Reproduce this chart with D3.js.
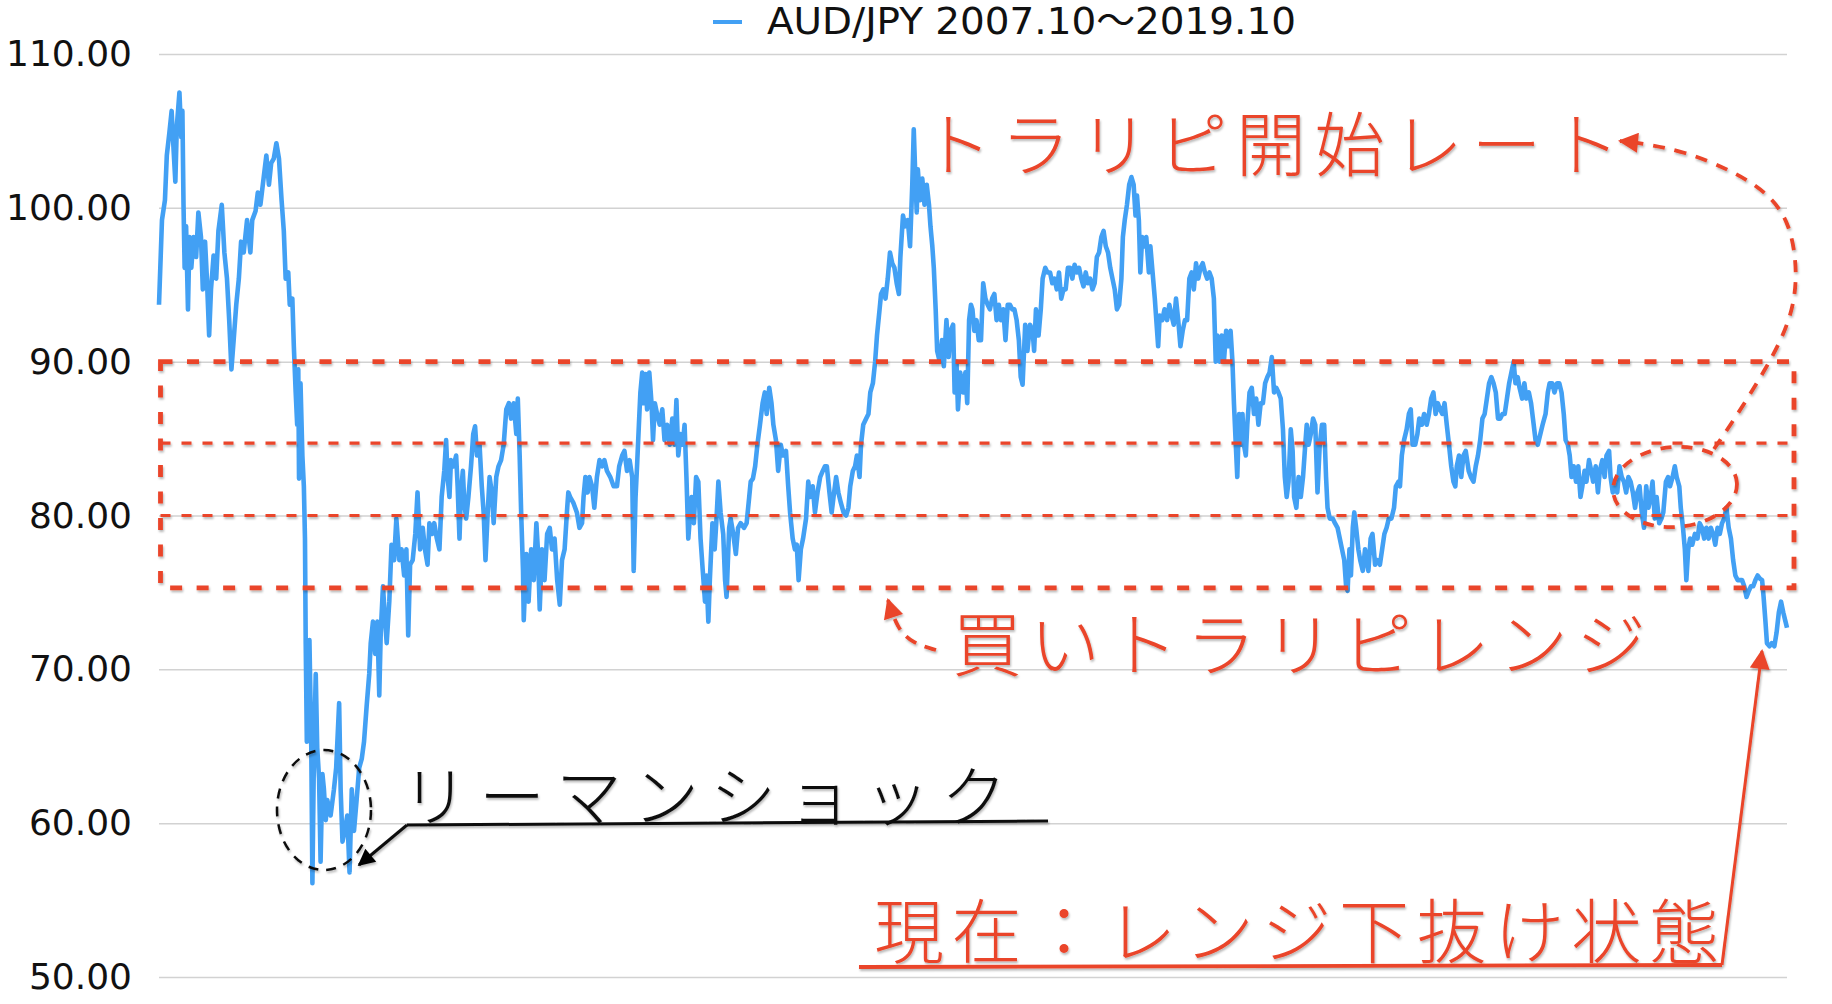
<!DOCTYPE html>
<html><head><meta charset="utf-8">
<script src="https://cdn.jsdelivr.net/npm/d3@7"></script>
<style>
html,body{margin:0;padding:0;background:#fff;}
svg{display:block;}
</style></head>
<body><svg id="chart" width="1832" height="1004"></svg>
<script>
// ---------------- DATA ----------------
const startDate = new Date(2007, 9, 1);   // 2007.10
const endDate   = new Date(2019, 9, 1);   // 2019.10
const yTicks = [50, 60, 70, 80, 90, 100, 110];
const seriesName = "AUD/JPY 2007.10〜2019.10";

// days since 2007-10-01
const dayOffsets = [
0,8,16,21,28,34,39,44,48,55,60,63,66,69,73,78,82,87,93,100,106,113,118,124,129,135,140,147,154,160,169,176,183,189,195,201,208,215,221,228,237,246,251,260,266,273,282,289,296,302,309,316,323,330,336,341,348,352,359,363,368,372,375,377,381,386,390,393,395,398,401,405,410,413,417,422,426,431,435,440,444,449,453,462,471,477,485,489,494,500,507,513,519,525,532,539,546,552,559,566,570,576,582,588,593,597,603,608,613,620,626,633,639,647,653,660,666,671,676,683,690,696,703,710,716,723,728,735,741,748,755,761,768,773,777,782,786,793,800,804,809,813,818,822,827,833,840,846,851,856,863,869,874,879,885,890,896,901,908,914,921,928,935,942,948,955,962,966,971,975,980,982,989,995,1002,1009,1016,1020,1025,1031,1038,1045,1052,1058,1065,1072,1079,1085,1092,1099,
1102,1107,1116,1125,1132,1139,1143,1148,1154,1159,1166,1172,1179,1186,1193,1199,1206,1215,1224,1233,1239,1247,1253,1260,1267,1274,1278,1283,1287,1292,1296,1301,1305,1310,1314,1320,1326,1330,1335,1341,1348,1355,1361,1368,1375,1382,1388,1393,1398,1404,1410,1415,1420,1425,1429,1434,1440,1446,1452,1458,1464,1470,1474,1479,1483,1490,1496,1501,1506,1512,1519,1524,1528,1535,1539,1546,1553,1559,1566,1575,1582,1589,1593,1599,1605,1611,1618,1625,1631,1636,1643,1649,1654,1661,1667,1674,1680,1688,1694,1699,1706,1712,1717,1722,1728,1734,1742,1748,1753,1760,1766,1773,1780,1787,1793,1798,1805,1811,1816,1823,1829,1836,1843,1850,1856,1861,1868,1874,1879,1886,1890,1896,1904,1910,1915,1922,1928,1933,1940,1944,1950,1956,1962,1968,1974,1980,1986,1992,1996,2003,2009,2016,2022,2028,2032,2036,2040,2043,2049,2055,2061,2067,2073,2077,2082,2086,2091,2095,2102,2108,2113,2120,2126,2131,2138,2142,2147,2151,2157,2165,2171,2176,2181,
2186,2190,2195,2201,2207,2213,2219,2225,2231,2237,2243,2249,2255,2261,2267,2273,2279,2285,2291,2297,2303,2309,2315,2320,2325,2332,2338,2345,2352,2356,2361,2368,2374,2379,2386,2392,2399,2405,2411,2417,2423,2429,2435,2441,2447,2453,2459,2465,2471,2477,2483,2489,2495,2501,2507,2513,2519,2525,2531,2537,2543,2549,2555,2561,2567,2573,2579,2585,2591,2595,2600,2606,2612,2618,2624,2629,2633,2638,2642,2647,2653,2658,2665,2669,2675,2681,2685,2690,2694,2701,2707,2714,2720,2726,2732,2738,2744,2750,2756,2762,2768,2774,2780,2786,2792,2798,2804,2810,2816,2822,2828,2834,2840,2845,2849,2855,2861,2867,2873,2879,2885,2890,2894,2899,2903,2908,2912,2917,2921,2926,2930,2936,2942,2948,2954,2960,2966,2972,2978,2984,2990,2996,3002,3008,3014,3020,3026,3031,3036,3041,3047,3052,3056,3062,3068,3074,3080,3086,3090,3095,3101,3107,3113,3119,3125,3131,3137,3142,3146,3152,3160,3166,3173,3179,3185,3191,3196,3200,3205,3209,3214,3218,3223,3229,3234,3241,3247,
3256,3262,3267,3274,3280,3287,3293,3299,3305,3311,3318,3325,3330,3337,3341,3346,3352,3359,3365,3370,3375,3382,3388,3393,3400,3406,3413,3419,3425,3431,3437,3443,3449,3455,3461,3467,3473,3479,3485,3490,3494,3500,3506,3512,3518,3526,3532,3539,3545,3551,3557,3563,3569,3575,3581,3587,3593,3599,3605,3611,3617,3623,3629,3635,3641,3647,3652,3658,3663,3670,3676,3681,3688,3694,3699,3706,3712,3719,3725,3733,3739,3744,3751,3757,3764,3770,3776,3782,3787,3793,3798,3803,3809,3815,3821,3827,3832,3838,3843,3850,3856,3861,3868,3874,3879,3886,3892,3897,3904,3908,3914,3920,3926,3932,3938,3944,3950,3956,3962,3968,3974,3980,3986,3992,3998,4004,4010,4016,4021,4027,4032,4039,4045,4050,4057,4063,4068,4075,4081,4086,4093,4097,4103,4108,4112,4117,4122,4128,4135,4142,4148,4154,4160,4166,4172,4178,4184,4190,4196,4202,4208,4214,4220,4226,4232,4238,4244,4250,4256,4262,4268,4274,4280,4286,4292,4298,4304,4310,4316,4320,4325,4329,4336,4342,4349,4355,4361,4367,4373,4379,4383
];

// AUD/JPY rate at each of those days
const audjpy = [
93.7,99.2,100.5,103.4,104.9,106.3,103.9,101.7,105.3,107.5,104.6,106.3,100.2,96.1,98.8,93.4,98.1,96.1,98.1,96.8,99.7,98.1,94.7,97.8,95.4,91.7,94.7,96.9,95.4,98.5,100.2,97.1,95.4,92.7,89.5,91.4,93.7,95.4,97.8,97.1,99.2,97.1,99.2,99.8,101.0,100.2,102.0,103.4,101.5,102.9,103.2,104.2,103.2,100.5,98.5,95.4,95.8,93.7,94.1,91.0,88.0,85.9,89.5,82.4,88.6,83.9,81.9,78.5,71.7,65.3,67.6,71.9,64.9,56.1,64.2,69.7,64.9,62.9,57.5,63.2,62.2,60.2,61.5,60.5,62.2,63.6,67.8,62.2,58.8,59.5,60.5,56.8,62.2,59.5,61.5,63.6,64.2,65.3,67.6,69.7,71.7,73.1,71.0,73.1,68.3,72.4,75.4,73.4,71.7,74.4,78.1,77.1,79.8,77.1,77.8,76.1,77.8,72.2,76.8,77.1,78.8,81.5,77.8,79.2,77.8,76.8,79.5,78.8,79.5,78.5,77.8,81.2,82.9,84.9,82.5,81.2,83.6,83.2,83.9,81.9,78.5,81.5,82.9,80.8,79.8,81.2,83.2,85.3,85.8,83.9,84.6,81.9,80.2,77.1,80.2,82.5,81.5,79.5,82.5,83.2,83.6,84.6,86.9,87.3,86.3,87.3,85.3,87.6,83.9,80.2,76.4,73.2,77.5,74.4,77.8,75.8,79.5,77.8,73.9,77.8,75.8,78.8,79.2,77.8,78.5,75.8,74.2,77.1,77.8,80.5,
81.5,81.2,80.8,80.2,79.2,79.5,81.2,82.5,81.5,82.5,81.9,80.5,82.5,83.6,83.2,83.6,82.9,82.5,81.9,81.9,83.2,83.9,84.2,82.9,83.6,82.5,76.4,81.2,83.2,85.9,88.0,89.3,87.3,89.2,86.9,89.3,87.3,84.9,87.3,86.6,85.9,86.9,84.9,85.9,84.6,86.3,84.6,87.5,83.9,85.3,84.6,85.9,82.5,78.5,79.8,81.2,79.5,82.5,82.2,78.5,76.4,74.4,76.1,73.1,75.8,79.5,77.8,79.8,82.2,80.2,78.8,75.8,74.7,79.2,79.8,78.8,77.5,79.2,79.5,79.2,79.5,81.2,82.2,82.4,83.2,84.6,85.9,87.3,88.0,86.6,88.3,87.3,85.9,84.9,82.9,84.6,83.9,84.2,81.9,80.2,78.5,77.8,78.1,75.8,77.8,78.5,79.8,82.2,81.2,81.9,80.2,81.5,82.5,82.9,83.2,83.2,81.5,80.2,81.2,82.5,81.5,80.8,80.2,80.0,80.5,81.9,82.9,83.2,83.9,82.5,84.6,85.9,86.3,86.6,88.0,88.6,90.0,91.7,93.4,94.4,94.7,94.1,95.4,97.1,96.4,96.1,95.1,94.4,96.8,99.5,98.8,99.2,97.5,101.5,105.1,102.2,99.7,102.5,100.5,101.9,100.2,101.5,100.2,98.8,97.5,96.1,93.4,90.7,90.0,91.4,89.7,92.7,90.3,92.0,92.4,88.0,90.0,86.9,89.3,88.0,89.3,87.3,92.7,
93.7,93.4,92.0,92.7,91.4,91.4,95.1,94.1,93.7,93.4,94.1,94.4,92.7,93.7,92.7,93.4,91.4,93.7,93.7,93.4,93.4,92.7,91.4,89.0,88.5,92.4,90.7,92.4,92.0,90.7,93.4,91.7,93.4,95.4,96.1,95.8,95.8,95.1,95.4,94.7,95.8,94.1,94.7,94.7,96.1,96.1,95.4,96.3,95.8,96.1,95.4,94.9,95.8,95.1,95.4,94.7,95.1,96.8,97.1,98.1,98.5,97.5,97.1,96.1,95.4,94.7,93.4,93.7,95.4,98.1,99.2,100.2,101.5,102.0,101.5,99.5,100.8,99.2,95.8,98.1,97.5,98.1,95.8,97.5,95.8,94.1,92.7,91.0,93.0,92.7,93.4,92.7,93.7,93.0,92.4,94.1,92.7,91.0,92.0,92.7,92.7,95.4,95.8,94.7,96.4,95.4,96.1,96.4,95.8,95.4,95.8,95.4,94.1,90.0,91.7,90.0,91.7,90.0,92.0,91.0,92.0,90.0,87.3,84.6,82.5,86.6,84.6,86.6,84.6,83.9,85.9,88.0,88.3,86.6,87.6,85.9,87.3,87.3,88.6,89.0,89.3,90.3,88.0,88.3,88.0,87.6,85.6,82.5,81.2,82.2,85.6,84.2,81.2,80.5,82.5,81.2,82.5,84.6,85.9,84.6,85.3,86.3,85.9,81.5,84.6,85.9,85.9,82.5,80.5,79.8,79.8,79.5,79.2,78.5,77.8,77.1,75.4,75.1,77.8,76.1,79.2,80.2,79.2,77.8,77.1,76.4,77.8,
76.4,78.5,78.8,76.8,77.1,76.8,77.8,78.8,79.2,79.8,79.8,80.5,81.9,82.2,81.9,83.9,84.9,85.6,86.6,86.9,84.6,84.6,85.3,86.3,85.9,86.6,85.9,86.6,87.6,88.0,86.6,87.3,86.9,86.6,87.3,85.9,84.6,83.2,82.2,81.9,83.2,83.9,82.5,83.9,84.2,82.9,82.5,82.2,83.2,83.9,84.9,86.3,86.6,87.6,88.6,89.0,88.6,88.0,86.3,86.3,86.6,86.6,87.6,88.6,89.3,90.0,88.6,89.0,88.3,87.6,88.6,87.6,88.0,87.3,86.3,84.9,84.6,85.3,85.9,86.6,88.0,88.6,88.6,88.0,88.6,88.6,88.0,86.6,84.9,84.6,83.9,82.5,83.2,82.2,83.2,81.2,81.9,82.9,82.2,83.6,82.9,82.2,83.2,81.5,82.9,83.6,82.5,83.9,84.2,82.5,81.5,82.2,81.5,83.2,82.5,82.2,81.5,82.5,82.2,81.5,80.5,81.5,81.9,80.2,79.2,81.9,80.5,81.2,82.2,79.8,81.2,79.5,79.8,80.2,82.2,82.5,81.9,82.5,83.2,82.5,81.9,80.5,79.2,77.8,75.8,77.8,78.5,78.1,78.8,78.5,79.5,79.2,78.5,79.2,78.5,79.2,78.8,78.1,79.2,78.8,79.5,79.8,80.5,79.2,78.5,77.1,76.1,75.8,75.8,75.8,75.4,74.7,75.1,75.4,75.4,75.8,76.1,75.9,75.8,74.7,73.1,71.7,71.5,71.7,71.5,72.4,73.7,74.4,73.7,73.1,72.7
];

// hand-drawn "buy range" annotation levels (rate values)
const rangeTop = 90, rangeBottom = 75.3;
const rangeInner = [84.7, 80.0];

const labelStart   = "トラリピ開始レート";
const labelRange   = "買いトラリピレンジ";
const labelLehman  = "リーマンショック";
const labelNow     = "現在：レンジ下抜け状態";

// ---------------- CHART ----------------
const RED = "#ea4429", BLUE = "#42a0f4";
const svg = d3.select("#chart");
const mL = 159, mR = 1787, mT = 54, mB = 977;
const x = d3.scaleTime().domain([startDate, endDate]).range([mL, mR]);
const y = d3.scaleLinear().domain([50, 110]).range([mB, mT]);

const defs = svg.append("defs");
const f = defs.append("filter").attr("id","sh").attr("x","-5%").attr("y","-5%").attr("width","110%").attr("height","120%");
f.append("feDropShadow").attr("dx",1).attr("dy",2).attr("stdDeviation",1.3).attr("flood-color","#000").attr("flood-opacity",0.28);
function marker(id, color, w, h){
  defs.append("marker").attr("id",id).attr("viewBox","0 0 10 10").attr("refX",9).attr("refY",5)
    .attr("markerUnits","userSpaceOnUse").attr("markerWidth",w).attr("markerHeight",h).attr("orient","auto")
    .append("path").attr("d","M0,0 L10,5 L0,10 z").attr("fill",color);
}
marker("arrRed", RED, 22, 20);
marker("arrBlack", "#000", 20, 17);

// grid + y axis
const yAxis = d3.axisLeft(y).tickValues(yTicks).tickFormat(d3.format(".2f"))
  .tickSize(-(mR - mL)).tickPadding(27);
const gA = svg.append("g").attr("transform", `translate(${mL},0)`).call(yAxis);
gA.select(".domain").remove();
gA.selectAll(".tick line").attr("stroke","#d2d2d2").attr("stroke-width",1.5);
gA.selectAll(".tick text").attr("font-family","'DejaVu Sans', sans-serif")
  .attr("font-size",36).attr("fill","#111");

// legend
const lg = svg.append("g");
lg.append("line").attr("x1",713).attr("x2",742).attr("y1",22).attr("y2",22).attr("stroke",BLUE).attr("stroke-width",4);
lg.append("text").attr("x",767).attr("y",23).attr("dominant-baseline","middle")
  .attr("font-family","'DejaVu Sans', 'Noto Sans CJK JP', sans-serif")
  .attr("font-size",37).attr("fill","#111")
  .attr("textLength",529).attr("lengthAdjust","spacingAndGlyphs")
  .text(seriesName);

// data line
const pts = dayOffsets.map((d,i)=>({date:d3.timeDay.offset(startDate,d), v:audjpy[i]}));
svg.append("path").datum(pts)
  .attr("d", d3.line().x(d=>x(d.date)).y(d=>y(d.v)))
  .attr("fill","none").attr("stroke",BLUE).attr("stroke-width",4.6).attr("stroke-linejoin","round");

// ---------- annotations ----------
const ann = svg.append("g").attr("filter","url(#sh)");
const rx0 = 160.5, rx1 = 1794;
ann.append("rect").attr("x",rx0).attr("y",y(rangeTop)).attr("width",rx1-rx0).attr("height",y(rangeBottom)-y(rangeTop))
  .attr("fill","none").attr("stroke",RED).attr("stroke-width",4.8).attr("stroke-dasharray","12 14.5");
rangeInner.forEach(v=>{
  ann.append("line").attr("x1",rx0).attr("x2",rx1).attr("y1",y(v)).attr("y2",y(v))
    .attr("stroke",RED).attr("stroke-width",3.2).attr("stroke-dasharray","10 11");
});

// small dashed ellipse and curved dashed arrow to the label
ann.append("ellipse").attr("cx",1675).attr("cy",487).attr("rx",62).attr("ry",40)
  .attr("transform","rotate(-4 1675 487)")
  .attr("fill","none").attr("stroke",RED).attr("stroke-width",3.8).attr("stroke-dasharray","11 10");
const curve1 = [[1714,449],[1732,423],[1768,366],[1792,318],[1798,272],[1790,222],[1768,193],[1733,171],[1684,151],[1640,143],[1620,141]];
ann.append("path").attr("d", d3.line().curve(d3.curveBasis)(curve1))
  .attr("fill","none").attr("stroke",RED).attr("stroke-width",3.8).attr("stroke-dasharray","12 10")
  .attr("marker-end","url(#arrRed)");

// dashed arrow near 買い
const curve2 = [[936,650],[912,643],[897,628],[888,600]];
ann.append("path").attr("d", d3.line().curve(d3.curveBasis)(curve2))
  .attr("fill","none").attr("stroke",RED).attr("stroke-width",3.8).attr("stroke-dasharray","12 9")
  .attr("marker-end","url(#arrRed)");

// Lehman: dashed circle, underline, arrow
ann.append("ellipse").attr("cx",324).attr("cy",810).attr("rx",47).attr("ry",60)
  .attr("fill","none").attr("stroke","#111").attr("stroke-width",2.5).attr("stroke-dasharray","10 8");
ann.append("line").attr("x1",407).attr("y1",825).attr("x2",1048).attr("y2",821).attr("stroke","#111").attr("stroke-width",3);
ann.append("line").attr("x1",407).attr("y1",825).attr("x2",359).attr("y2",865).attr("stroke","#111").attr("stroke-width",3)
  .attr("marker-end","url(#arrBlack)");

// current state: underline + arrow
ann.append("line").attr("x1",859).attr("y1",967).attr("x2",1722).attr("y2",965).attr("stroke",RED).attr("stroke-width",3.8);
ann.append("line").attr("x1",1722).attr("y1",965).attr("x2",1762).attr("y2",651).attr("stroke",RED).attr("stroke-width",3)
  .attr("marker-end","url(#arrRed)");

// labels
const jp = "'Noto Sans CJK JP', sans-serif";
function label(txt, xx, yy, color, size, ls){
  ann.append("text").attr("x",xx).attr("y",yy).attr("dominant-baseline","central")
    .attr("font-family",jp).attr("font-weight",300).attr("font-size",size)
    .attr("letter-spacing",ls).attr("fill",color).text(txt);
}
label(labelStart, 922, 140, RED, 70, 8.5);
label(labelRange, 952, 640, RED, 70, 8);
label(labelLehman, 402, 792, "#111", 66, 11);
label(labelNow, 874, 927, RED, 70, 7.5);
</script>
</body></html>
